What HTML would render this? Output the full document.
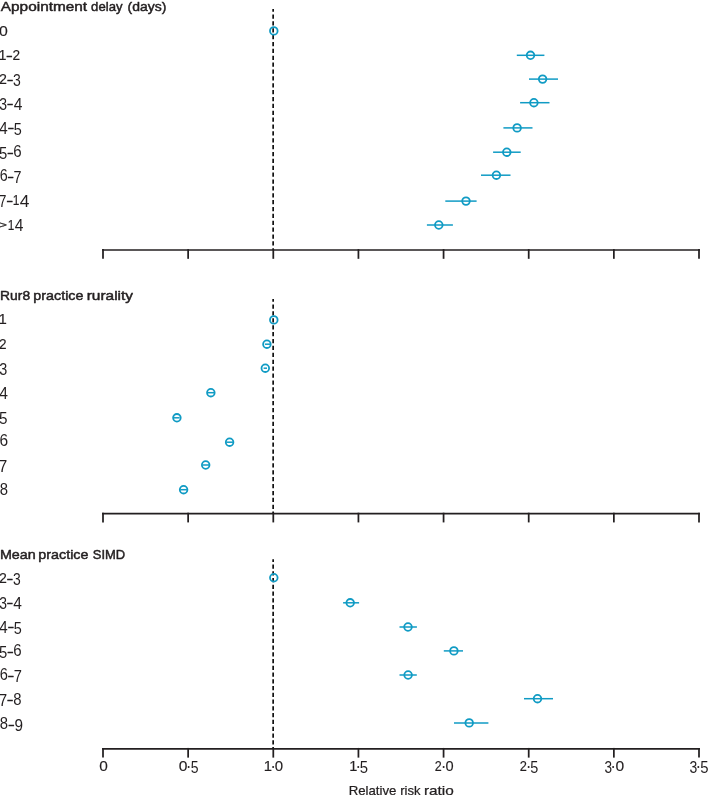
<!DOCTYPE html>
<html><head><meta charset="utf-8"><title>Forest plot</title>
<style>
html,body{margin:0;padding:0;background:#fff;}
body{width:708px;height:795px;overflow:hidden;}
svg{display:block;will-change:transform;filter:opacity(0.9999);}
text{font-family:"Liberation Sans",sans-serif;fill:#231F20;}
</style></head><body>
<svg width="708" height="795" viewBox="0 0 708 795">
<rect width="708" height="795" fill="#fff"/>
<g>
<path d="M102.10 249.95H699.90" stroke="#231F20" stroke-width="1.65" fill="none"/>
<path d="M103.00 249.12V258.82" stroke="#231F20" stroke-width="1.75" fill="none"/>
<path d="M188.14 249.12V258.82" stroke="#231F20" stroke-width="1.75" fill="none"/>
<path d="M273.29 249.12V258.82" stroke="#231F20" stroke-width="1.75" fill="none"/>
<path d="M358.43 249.12V258.82" stroke="#231F20" stroke-width="1.75" fill="none"/>
<path d="M443.57 249.12V258.82" stroke="#231F20" stroke-width="1.75" fill="none"/>
<path d="M528.71 249.12V258.82" stroke="#231F20" stroke-width="1.75" fill="none"/>
<path d="M613.86 249.12V258.82" stroke="#231F20" stroke-width="1.75" fill="none"/>
<path d="M699.00 249.12V258.82" stroke="#231F20" stroke-width="1.75" fill="none"/>
<path d="M102.10 513.55H699.90" stroke="#231F20" stroke-width="1.65" fill="none"/>
<path d="M103.00 512.72V522.42" stroke="#231F20" stroke-width="1.75" fill="none"/>
<path d="M188.14 512.72V522.42" stroke="#231F20" stroke-width="1.75" fill="none"/>
<path d="M273.29 512.72V522.42" stroke="#231F20" stroke-width="1.75" fill="none"/>
<path d="M358.43 512.72V522.42" stroke="#231F20" stroke-width="1.75" fill="none"/>
<path d="M443.57 512.72V522.42" stroke="#231F20" stroke-width="1.75" fill="none"/>
<path d="M528.71 512.72V522.42" stroke="#231F20" stroke-width="1.75" fill="none"/>
<path d="M613.86 512.72V522.42" stroke="#231F20" stroke-width="1.75" fill="none"/>
<path d="M699.00 512.72V522.42" stroke="#231F20" stroke-width="1.75" fill="none"/>
<path d="M102.10 748.85H699.90" stroke="#231F20" stroke-width="1.85" fill="none"/>
<path d="M103.00 747.93V757.62" stroke="#231F20" stroke-width="1.75" fill="none"/>
<path d="M188.14 747.93V757.62" stroke="#231F20" stroke-width="1.75" fill="none"/>
<path d="M273.29 747.93V757.62" stroke="#231F20" stroke-width="1.75" fill="none"/>
<path d="M358.43 747.93V757.62" stroke="#231F20" stroke-width="1.75" fill="none"/>
<path d="M443.57 747.93V757.62" stroke="#231F20" stroke-width="1.75" fill="none"/>
<path d="M528.71 747.93V757.62" stroke="#231F20" stroke-width="1.75" fill="none"/>
<path d="M613.86 747.93V757.62" stroke="#231F20" stroke-width="1.75" fill="none"/>
<path d="M699.00 747.93V757.62" stroke="#231F20" stroke-width="1.75" fill="none"/>
<path d="M273.15 9.1V249.5" stroke="#111" stroke-width="1.7" stroke-dasharray="4.25 2.624" stroke-dashoffset="1.5" fill="none"/>
<path d="M273.15 299.0V513.0" stroke="#111" stroke-width="1.7" stroke-dasharray="4.25 2.657" stroke-dashoffset="1.5" fill="none"/>
<path d="M273.15 559.2V748.3" stroke="#111" stroke-width="1.7" stroke-dasharray="4.25 2.507" stroke-dashoffset="1.5" fill="none"/>
<circle cx="273.8" cy="30.9" r="3.8" stroke="#109BC4" stroke-width="1.8" fill="none"/>
<path d="M516.8 55.3H544.4" stroke="#109BC4" stroke-width="1.5" fill="none"/>
<circle cx="530.5" cy="55.3" r="3.8" stroke="#109BC4" stroke-width="1.8" fill="none"/>
<path d="M529.0 79.1H558.0" stroke="#109BC4" stroke-width="1.5" fill="none"/>
<circle cx="542.6" cy="79.1" r="3.8" stroke="#109BC4" stroke-width="1.8" fill="none"/>
<path d="M520.1 102.7H549.5" stroke="#109BC4" stroke-width="1.5" fill="none"/>
<circle cx="533.9" cy="102.7" r="3.8" stroke="#109BC4" stroke-width="1.8" fill="none"/>
<path d="M503.4 127.9H532.5" stroke="#109BC4" stroke-width="1.5" fill="none"/>
<circle cx="517.1" cy="127.9" r="3.8" stroke="#109BC4" stroke-width="1.8" fill="none"/>
<path d="M493.1 152.2H520.7" stroke="#109BC4" stroke-width="1.5" fill="none"/>
<circle cx="506.8" cy="152.2" r="3.8" stroke="#109BC4" stroke-width="1.8" fill="none"/>
<path d="M481.0 175.2H510.5" stroke="#109BC4" stroke-width="1.5" fill="none"/>
<circle cx="496.4" cy="175.2" r="3.8" stroke="#109BC4" stroke-width="1.8" fill="none"/>
<path d="M445.3 201.1H476.6" stroke="#109BC4" stroke-width="1.5" fill="none"/>
<circle cx="466.0" cy="201.1" r="3.8" stroke="#109BC4" stroke-width="1.8" fill="none"/>
<path d="M426.9 225.0H452.9" stroke="#109BC4" stroke-width="1.5" fill="none"/>
<circle cx="438.8" cy="225.0" r="3.8" stroke="#109BC4" stroke-width="1.8" fill="none"/>
<circle cx="273.8" cy="319.9" r="3.8" stroke="#109BC4" stroke-width="1.8" fill="none"/>
<path d="M264.9 344.2H270.3" stroke="#109BC4" stroke-width="1.5" fill="none"/>
<circle cx="266.9" cy="344.2" r="3.8" stroke="#109BC4" stroke-width="1.8" fill="none"/>
<path d="M263.6 368.2H267.0" stroke="#109BC4" stroke-width="1.5" fill="none"/>
<circle cx="265.3" cy="368.2" r="3.8" stroke="#109BC4" stroke-width="1.8" fill="none"/>
<path d="M207.3 392.7H214.4" stroke="#109BC4" stroke-width="1.5" fill="none"/>
<circle cx="210.85" cy="392.7" r="3.8" stroke="#109BC4" stroke-width="1.8" fill="none"/>
<path d="M173.4 417.8H179.6" stroke="#109BC4" stroke-width="1.5" fill="none"/>
<circle cx="176.9" cy="417.8" r="3.8" stroke="#109BC4" stroke-width="1.8" fill="none"/>
<path d="M226.3 442.2H232.9" stroke="#109BC4" stroke-width="1.5" fill="none"/>
<circle cx="229.6" cy="442.2" r="3.8" stroke="#109BC4" stroke-width="1.8" fill="none"/>
<path d="M202.4 465.0H209.0" stroke="#109BC4" stroke-width="1.5" fill="none"/>
<circle cx="205.7" cy="465.0" r="3.8" stroke="#109BC4" stroke-width="1.8" fill="none"/>
<path d="M180.3 489.7H186.9" stroke="#109BC4" stroke-width="1.5" fill="none"/>
<circle cx="183.6" cy="489.7" r="3.8" stroke="#109BC4" stroke-width="1.8" fill="none"/>
<circle cx="273.8" cy="577.7" r="3.8" stroke="#109BC4" stroke-width="1.8" fill="none"/>
<path d="M343.1 602.8H359.1" stroke="#109BC4" stroke-width="1.5" fill="none"/>
<circle cx="350.2" cy="602.8" r="3.8" stroke="#109BC4" stroke-width="1.8" fill="none"/>
<path d="M399.5 627.0H416.9" stroke="#109BC4" stroke-width="1.5" fill="none"/>
<circle cx="408.0" cy="627.0" r="3.8" stroke="#109BC4" stroke-width="1.8" fill="none"/>
<path d="M443.8 650.9H463.0" stroke="#109BC4" stroke-width="1.5" fill="none"/>
<circle cx="453.9" cy="650.9" r="3.8" stroke="#109BC4" stroke-width="1.8" fill="none"/>
<path d="M399.5 675.0H416.8" stroke="#109BC4" stroke-width="1.5" fill="none"/>
<circle cx="408.1" cy="675.0" r="3.8" stroke="#109BC4" stroke-width="1.8" fill="none"/>
<path d="M524.0 698.7H553.0" stroke="#109BC4" stroke-width="1.5" fill="none"/>
<circle cx="537.5" cy="698.7" r="3.8" stroke="#109BC4" stroke-width="1.8" fill="none"/>
<path d="M454.0 722.9H488.4" stroke="#109BC4" stroke-width="1.5" fill="none"/>
<circle cx="469.2" cy="722.9" r="3.8" stroke="#109BC4" stroke-width="1.8" fill="none"/>
<circle cx="188.65" cy="767.0" r="1.0" fill="#231F20"/>
<circle cx="273.15" cy="767.0" r="1.0" fill="#231F20"/>
<circle cx="358.25" cy="767.0" r="1.0" fill="#231F20"/>
<circle cx="443.65" cy="767.0" r="1.0" fill="#231F20"/>
<circle cx="528.60" cy="767.0" r="1.0" fill="#231F20"/>
<circle cx="613.10" cy="767.0" r="1.0" fill="#231F20"/>
<circle cx="698.30" cy="767.0" r="1.0" fill="#231F20"/>
<text x="0.82" y="10.75" font-size="13.5" textLength="86.35" lengthAdjust="spacingAndGlyphs" stroke="#231F20" stroke-width="0.48" stroke-linejoin="round">Appointment</text>
<text x="91.11" y="10.75" font-size="13.5" textLength="31.39" lengthAdjust="spacingAndGlyphs" stroke="#231F20" stroke-width="0.48" stroke-linejoin="round">delay</text>
<text x="127.59" y="10.75" font-size="13.5" textLength="38.76" lengthAdjust="spacingAndGlyphs" stroke="#231F20" stroke-width="0.48" stroke-linejoin="round">(days)</text>
<text x="0.10" y="299.50" font-size="13.5" textLength="30.02" lengthAdjust="spacingAndGlyphs" stroke="#231F20" stroke-width="0.48" stroke-linejoin="round">Rur8</text>
<text x="33.37" y="299.50" font-size="13.5" textLength="50.06" lengthAdjust="spacingAndGlyphs" stroke="#231F20" stroke-width="0.48" stroke-linejoin="round">practice</text>
<text x="86.72" y="299.50" font-size="13.5" textLength="46.27" lengthAdjust="spacingAndGlyphs" stroke="#231F20" stroke-width="0.48" stroke-linejoin="round">rurality</text>
<text x="-0.14" y="558.90" font-size="13.5" textLength="35.88" lengthAdjust="spacingAndGlyphs" stroke="#231F20" stroke-width="0.48" stroke-linejoin="round">Mean</text>
<text x="38.32" y="558.90" font-size="13.5" textLength="50.21" lengthAdjust="spacingAndGlyphs" stroke="#231F20" stroke-width="0.48" stroke-linejoin="round">practice</text>
<text x="92.72" y="558.90" font-size="13.5" textLength="32.45" lengthAdjust="spacingAndGlyphs" stroke="#231F20" stroke-width="0.48" stroke-linejoin="round">SIMD</text>
<text x="348.64" y="794.60" font-size="13.5" textLength="47.80" lengthAdjust="spacingAndGlyphs" stroke="#231F20" stroke-width="0.25" stroke-linejoin="round">Relative</text>
<text x="400.24" y="794.60" font-size="13.5" textLength="20.33" lengthAdjust="spacingAndGlyphs" stroke="#231F20" stroke-width="0.25" stroke-linejoin="round">risk</text>
<text x="423.91" y="794.60" font-size="13.5" textLength="29.89" lengthAdjust="spacingAndGlyphs" stroke="#231F20" stroke-width="0.25" stroke-linejoin="round">ratio</text>
<text x="-0.97" y="35.70" font-size="15.0" textLength="8.82" lengthAdjust="spacingAndGlyphs" stroke="#231F20" stroke-width="0.15" stroke-linejoin="round">0</text>
<text x="-1.54" y="59.85" font-size="14.3" textLength="7.99" lengthAdjust="spacingAndGlyphs" stroke="#231F20" stroke-width="0.15" stroke-linejoin="round">1</text>
<text x="6.84" y="59.55" font-size="14.3" textLength="5.21" lengthAdjust="spacingAndGlyphs" stroke="#231F20" stroke-width="0.4" stroke-linejoin="round">–</text>
<text x="12.45" y="59.85" font-size="14.3" textLength="7.62" lengthAdjust="spacingAndGlyphs" stroke="#231F20" stroke-width="0.15" stroke-linejoin="round">2</text>
<text x="-0.92" y="84.10" font-size="14.3" textLength="7.91" lengthAdjust="spacingAndGlyphs" stroke="#231F20" stroke-width="0.15" stroke-linejoin="round">2</text>
<text x="7.39" y="83.80" font-size="14.3" textLength="5.21" lengthAdjust="spacingAndGlyphs" stroke="#231F20" stroke-width="0.4" stroke-linejoin="round">–</text>
<text x="13.09" y="85.95" font-size="16.8" textLength="7.79" lengthAdjust="spacingAndGlyphs">3</text>
<text x="-0.81" y="110.20" font-size="16.8" textLength="7.79" lengthAdjust="spacingAndGlyphs">3</text>
<text x="7.59" y="108.05" font-size="14.3" textLength="5.21" lengthAdjust="spacingAndGlyphs" stroke="#231F20" stroke-width="0.4" stroke-linejoin="round">–</text>
<text x="13.66" y="110.05" font-size="16.0" textLength="8.66" lengthAdjust="spacingAndGlyphs">4</text>
<text x="-0.83" y="134.30" font-size="16.0" textLength="8.44" lengthAdjust="spacingAndGlyphs">4</text>
<text x="8.19" y="132.30" font-size="14.3" textLength="5.21" lengthAdjust="spacingAndGlyphs" stroke="#231F20" stroke-width="0.4" stroke-linejoin="round">–</text>
<text x="13.77" y="134.50" font-size="16.4" textLength="8.03" lengthAdjust="spacingAndGlyphs">5</text>
<text x="-0.95" y="158.75" font-size="16.4" textLength="8.27" lengthAdjust="spacingAndGlyphs">5</text>
<text x="7.79" y="156.55" font-size="14.3" textLength="5.21" lengthAdjust="spacingAndGlyphs" stroke="#231F20" stroke-width="0.4" stroke-linejoin="round">–</text>
<text x="13.33" y="156.95" font-size="16.5" textLength="8.39" lengthAdjust="spacingAndGlyphs">6</text>
<text x="-0.33" y="181.20" font-size="16.5" textLength="7.97" lengthAdjust="spacingAndGlyphs">6</text>
<text x="8.04" y="180.80" font-size="14.3" textLength="5.21" lengthAdjust="spacingAndGlyphs" stroke="#231F20" stroke-width="0.4" stroke-linejoin="round">–</text>
<text x="13.52" y="182.60" font-size="16.6" textLength="7.98" lengthAdjust="spacingAndGlyphs">7</text>
<text x="-1.30" y="206.85" font-size="16.6" textLength="7.68" lengthAdjust="spacingAndGlyphs">7</text>
<text x="7.04" y="205.05" font-size="14.3" textLength="5.40" lengthAdjust="spacingAndGlyphs" stroke="#231F20" stroke-width="0.4" stroke-linejoin="round">–</text>
<text x="12.73" y="205.35" font-size="14.3" textLength="6.67" lengthAdjust="spacingAndGlyphs" stroke="#231F20" stroke-width="0.15" stroke-linejoin="round">1</text>
<text x="19.72" y="207.05" font-size="16.0" textLength="9.65" lengthAdjust="spacingAndGlyphs">4</text>
<text x="-0.87" y="228.30" font-size="9.8" textLength="7.71" lengthAdjust="spacingAndGlyphs" stroke="#231F20" stroke-width="0.25" stroke-linejoin="round">&gt;</text>
<text x="7.69" y="229.60" font-size="14.3" textLength="6.61" lengthAdjust="spacingAndGlyphs" stroke="#231F20" stroke-width="0.15" stroke-linejoin="round">1</text>
<text x="14.76" y="231.30" font-size="16.0" textLength="8.66" lengthAdjust="spacingAndGlyphs">4</text>
<text x="-1.58" y="324.30" font-size="14.3" textLength="8.30" lengthAdjust="spacingAndGlyphs" stroke="#231F20" stroke-width="0.15" stroke-linejoin="round">1</text>
<text x="-0.89" y="348.60" font-size="14.3" textLength="7.56" lengthAdjust="spacingAndGlyphs" stroke="#231F20" stroke-width="0.15" stroke-linejoin="round">2</text>
<text x="-0.82" y="374.75" font-size="16.8" textLength="8.02" lengthAdjust="spacingAndGlyphs">3</text>
<text x="-0.84" y="398.60" font-size="16.0" textLength="8.66" lengthAdjust="spacingAndGlyphs">4</text>
<text x="-0.96" y="423.90" font-size="16.4" textLength="8.50" lengthAdjust="spacingAndGlyphs">5</text>
<text x="-0.39" y="445.80" font-size="16.5" textLength="8.63" lengthAdjust="spacingAndGlyphs">6</text>
<text x="-1.40" y="471.80" font-size="16.6" textLength="8.77" lengthAdjust="spacingAndGlyphs">7</text>
<text x="-0.25" y="494.90" font-size="16.5" textLength="8.27" lengthAdjust="spacingAndGlyphs">8</text>
<text x="-0.91" y="582.90" font-size="14.3" textLength="7.85" lengthAdjust="spacingAndGlyphs" stroke="#231F20" stroke-width="0.15" stroke-linejoin="round">2</text>
<text x="7.34" y="582.60" font-size="14.3" textLength="5.21" lengthAdjust="spacingAndGlyphs" stroke="#231F20" stroke-width="0.4" stroke-linejoin="round">–</text>
<text x="13.05" y="584.75" font-size="16.8" textLength="7.73" lengthAdjust="spacingAndGlyphs">3</text>
<text x="-0.80" y="609.10" font-size="16.8" textLength="7.73" lengthAdjust="spacingAndGlyphs">3</text>
<text x="7.34" y="606.95" font-size="14.3" textLength="5.21" lengthAdjust="spacingAndGlyphs" stroke="#231F20" stroke-width="0.4" stroke-linejoin="round">–</text>
<text x="13.21" y="608.95" font-size="16.0" textLength="8.61" lengthAdjust="spacingAndGlyphs">4</text>
<text x="-0.83" y="633.30" font-size="16.0" textLength="8.44" lengthAdjust="spacingAndGlyphs">4</text>
<text x="8.19" y="631.30" font-size="14.3" textLength="5.21" lengthAdjust="spacingAndGlyphs" stroke="#231F20" stroke-width="0.4" stroke-linejoin="round">–</text>
<text x="13.77" y="633.50" font-size="16.4" textLength="8.03" lengthAdjust="spacingAndGlyphs">5</text>
<text x="-0.95" y="657.85" font-size="16.4" textLength="8.27" lengthAdjust="spacingAndGlyphs">5</text>
<text x="7.79" y="655.65" font-size="14.3" textLength="5.21" lengthAdjust="spacingAndGlyphs" stroke="#231F20" stroke-width="0.4" stroke-linejoin="round">–</text>
<text x="13.33" y="656.05" font-size="16.5" textLength="8.39" lengthAdjust="spacingAndGlyphs">6</text>
<text x="-0.34" y="680.40" font-size="16.5" textLength="8.15" lengthAdjust="spacingAndGlyphs">6</text>
<text x="8.19" y="680.00" font-size="14.3" textLength="5.21" lengthAdjust="spacingAndGlyphs" stroke="#231F20" stroke-width="0.4" stroke-linejoin="round">–</text>
<text x="13.66" y="681.80" font-size="16.6" textLength="8.16" lengthAdjust="spacingAndGlyphs">7</text>
<text x="-1.37" y="706.15" font-size="16.6" textLength="8.41" lengthAdjust="spacingAndGlyphs">7</text>
<text x="7.49" y="704.35" font-size="14.3" textLength="5.21" lengthAdjust="spacingAndGlyphs" stroke="#231F20" stroke-width="0.4" stroke-linejoin="round">–</text>
<text x="13.25" y="704.75" font-size="16.5" textLength="8.27" lengthAdjust="spacingAndGlyphs">8</text>
<text x="-0.25" y="729.10" font-size="16.5" textLength="8.27" lengthAdjust="spacingAndGlyphs">8</text>
<text x="8.69" y="728.70" font-size="14.3" textLength="5.21" lengthAdjust="spacingAndGlyphs" stroke="#231F20" stroke-width="0.4" stroke-linejoin="round">–</text>
<text x="14.42" y="730.90" font-size="16.4" textLength="8.53" lengthAdjust="spacingAndGlyphs">9</text>
<text x="99.24" y="771.30" font-size="14.62" textLength="8.59" lengthAdjust="spacingAndGlyphs" stroke="#231F20" stroke-width="0.15" stroke-linejoin="round">0</text>
<text x="178.73" y="771.30" font-size="14.62" textLength="8.71" lengthAdjust="spacingAndGlyphs" stroke="#231F20" stroke-width="0.15" stroke-linejoin="round">0</text>
<text x="190.79" y="773.05" font-size="15.99" textLength="7.79" lengthAdjust="spacingAndGlyphs">5</text>
<text x="263.72" y="771.20" font-size="13.94" textLength="8.30" lengthAdjust="spacingAndGlyphs" stroke="#231F20" stroke-width="0.15" stroke-linejoin="round">1</text>
<text x="274.76" y="771.30" font-size="14.62" textLength="8.36" lengthAdjust="spacingAndGlyphs" stroke="#231F20" stroke-width="0.15" stroke-linejoin="round">0</text>
<text x="349.19" y="771.20" font-size="13.94" textLength="8.12" lengthAdjust="spacingAndGlyphs" stroke="#231F20" stroke-width="0.15" stroke-linejoin="round">1</text>
<text x="359.75" y="773.05" font-size="15.99" textLength="8.27" lengthAdjust="spacingAndGlyphs">5</text>
<text x="434.66" y="771.20" font-size="13.94" textLength="6.97" lengthAdjust="spacingAndGlyphs" stroke="#231F20" stroke-width="0.15" stroke-linejoin="round">2</text>
<text x="445.47" y="771.30" font-size="14.62" textLength="8.13" lengthAdjust="spacingAndGlyphs" stroke="#231F20" stroke-width="0.15" stroke-linejoin="round">0</text>
<text x="519.69" y="771.20" font-size="13.94" textLength="7.14" lengthAdjust="spacingAndGlyphs" stroke="#231F20" stroke-width="0.15" stroke-linejoin="round">2</text>
<text x="530.27" y="773.05" font-size="15.99" textLength="8.03" lengthAdjust="spacingAndGlyphs">5</text>
<text x="604.41" y="773.00" font-size="16.38" textLength="7.56" lengthAdjust="spacingAndGlyphs">3</text>
<text x="615.53" y="771.30" font-size="14.62" textLength="8.71" lengthAdjust="spacingAndGlyphs" stroke="#231F20" stroke-width="0.15" stroke-linejoin="round">0</text>
<text x="689.49" y="773.00" font-size="16.38" textLength="7.79" lengthAdjust="spacingAndGlyphs">3</text>
<text x="700.15" y="773.05" font-size="15.99" textLength="8.27" lengthAdjust="spacingAndGlyphs">5</text>
</g>
</svg>
</body></html>
